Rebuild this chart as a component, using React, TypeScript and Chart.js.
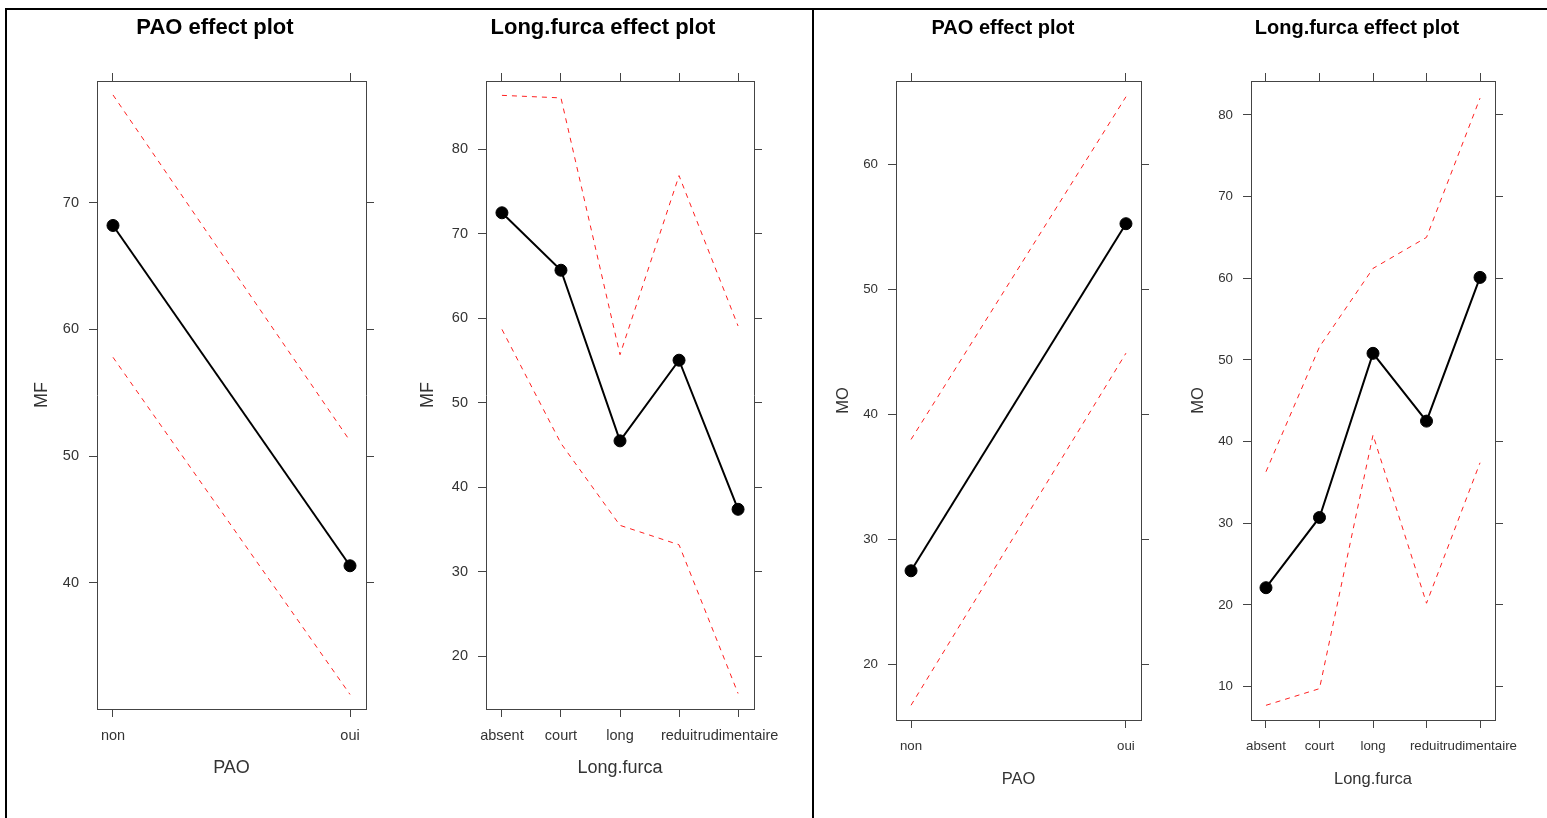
import React, { useEffect, useRef } from 'react';
import Chart from 'chart.js/auto';

// ---------- data ----------
const paoLevels = ['non', 'oui'];
const furcaLevels = ['absent', 'court', 'long', 'reduit', 'rudimentaire'];

const mfPaoFit = [68.2, 41.35];
const mfPaoUpper = [78.5, 51.2];
const mfPaoLower = [57.8, 31.2];

const mfFurcaFit = [72.5, 65.7, 45.5, 55.05, 37.4];
const mfFurcaUpper = [86.4, 86.1, 55.7, 76.9, 59.1];
const mfFurcaLower = [58.7, 45.2, 35.5, 33.2, 15.6];

const moPaoFit = [27.5, 55.25];
const moPaoUpper = [38.0, 65.4];
const moPaoLower = [16.75, 44.9];

const moFurcaFit = [22.1, 30.7, 50.8, 42.5, 60.1];
const moFurcaUpper = [36.3, 51.6, 61.2, 65.0, 82.05];
const moFurcaLower = [7.7, 9.74, 40.8, 20.2, 37.4];

const mfPaoTicks = [40, 50, 60, 70];
const mfFurcaTicks = [20, 30, 40, 50, 60, 70, 80];
const moPaoTicks = [20, 30, 40, 50, 60];
const moFurcaTicks = [10, 20, 30, 40, 50, 60, 70, 80];

// ---------- styling ----------
const FONT = '"Liberation Sans", Arial, Helvetica, sans-serif';
const AXIS_COLOR = '#444';
const TEXT_COLOR = '#333';

type PanelSpec = {
  title: string;
  xTitle: string;
  yTitle: string;
  levels: string[];
  fit: number[];
  upper: number[];
  lower: number[];
  yTicks: number[];
  xMin: number;
  xMax: number;
  yMin: number;
  yMax: number;
  left: number;
  top: number;
  w: number;
  h: number;
  leftW: number;
  rightW: number;
  topH: number;
  bottomH: number;
  yTitlePad: number;
  xTitlePad: number;
  titleSize: number;
  tickSize: number;
  axisTitleSize: number;
};

const panels: PanelSpec[] = [
  {
    title: 'PAO effect plot', xTitle: 'PAO', yTitle: 'MF', levels: paoLevels,
    fit: mfPaoFit, upper: mfPaoUpper, lower: mfPaoLower, yTicks: mfPaoTicks,
    xMin: 0.9325, xMax: 2.0675, yMin: 30.05, yMax: 79.6,
    left: 10, top: 10, w: 410, h: 808, leftW: 87, rightW: 54, topH: 40, bottomH: 109,
    yTitlePad: 21, xTitlePad: 39, titleSize: 22, tickSize: 14.5, axisTitleSize: 18,
  },
  {
    title: 'Long.furca effect plot', xTitle: 'Long.furca', yTitle: 'MF', levels: furcaLevels,
    fit: mfFurcaFit, upper: mfFurcaUpper, lower: mfFurcaLower, yTicks: mfFurcaTicks,
    xMin: 0.73, xMax: 5.27, yMin: 13.76, yMax: 88.1,
    left: 412, top: 10, w: 382, h: 808, leftW: 74, rightW: 40, topH: 40, bottomH: 109,
    yTitlePad: 5, xTitlePad: 39, titleSize: 22, tickSize: 14.5, axisTitleSize: 18,
  },
  {
    title: 'PAO effect plot', xTitle: 'PAO', yTitle: 'MO', levels: paoLevels,
    fit: moPaoFit, upper: moPaoUpper, lower: moPaoLower, yTicks: moPaoTicks,
    xMin: 0.93, xMax: 2.07, yMin: 15.57, yMax: 66.66,
    left: 820, top: 10, w: 366, h: 808, leftW: 76, rightW: 45, topH: 40, bottomH: 98,
    yTitlePad: 12, xTitlePad: 28, titleSize: 20, tickSize: 13.3, axisTitleSize: 16.5,
  },
  {
    title: 'Long.furca effect plot', xTitle: 'Long.furca', yTitle: 'MO', levels: furcaLevels,
    fit: moFurcaFit, upper: moFurcaUpper, lower: moFurcaLower, yTicks: moFurcaTicks,
    xMin: 0.72, xMax: 5.28, yMin: 5.9, yMax: 84.15,
    left: 1170, top: 10, w: 374, h: 808, leftW: 81, rightW: 49, topH: 40, bottomH: 98,
    yTitlePad: 17, xTitlePad: 28, titleSize: 20, tickSize: 13.3, axisTitleSize: 16.5,
  },
];

function toPoints(vals: number[]) {
  return vals.map((v, i) => ({ x: i + 1, y: v }));
}

function Panel({ spec }: { spec: PanelSpec }) {
  const ref = useRef<HTMLCanvasElement>(null);

  useEffect(() => {
    const canvas = ref.current;
    if (!canvas) return;
    const xTickBuilder = (s: any) => {
      s.ticks = spec.levels.map((_, i) => ({ value: i + 1 }));
    };
    const yTickBuilder = (s: any) => {
      s.ticks = spec.yTicks.map((v) => ({ value: v }));
    };
    const gridBase = {
      drawOnChartArea: false,
      drawTicks: true,
      tickLength: 8,
      color: AXIS_COLOR,
      tickColor: AXIS_COLOR,
      lineWidth: 1,
    };
    const borderBase = { display: true, color: AXIS_COLOR, width: 1 };

    const chart = new Chart(canvas, {
      type: 'line',
      data: {
        datasets: [
          {
            label: 'fit',
            data: toPoints(spec.fit),
            borderColor: '#000',
            backgroundColor: '#000',
            borderWidth: 2,
            pointRadius: 6,
            pointHoverRadius: 6,
            pointBorderWidth: 1,
            pointBackgroundColor: '#000',
            pointBorderColor: '#000',
            tension: 0,
            xAxisID: 'x',
            yAxisID: 'y',
          },
          {
            label: 'upper',
            data: toPoints(spec.upper),
            borderColor: '#ff2020',
            borderWidth: 1,
            borderDash: [5, 5],
            pointRadius: 0,
            tension: 0,
            xAxisID: 'x',
            yAxisID: 'y',
          },
          {
            label: 'lower',
            data: toPoints(spec.lower),
            borderColor: '#ff2020',
            borderWidth: 1,
            borderDash: [5, 5],
            pointRadius: 0,
            tension: 0,
            xAxisID: 'x',
            yAxisID: 'y',
          },
        ],
      },
      options: {
        responsive: false,
        animation: false,
        events: [],
        layout: { padding: 0 },
        plugins: {
          legend: { display: false },
          tooltip: { enabled: false },
          title: {
            display: true,
            text: spec.title,
            color: '#000',
            font: { family: FONT, size: spec.titleSize, weight: 'bold', lineHeight: '26px' },
            padding: { top: 5, bottom: 0 },
          },
        },
        scales: {
          x: {
            type: 'linear',
            position: 'bottom',
            min: spec.xMin,
            max: spec.xMax,
            afterBuildTicks: xTickBuilder,
            afterFit: (s: any) => {
              s.height = spec.bottomH;
              s.paddingLeft = 0;
              s.paddingRight = 0;
            },
            ticks: {
              autoSkip: false,
              maxRotation: 0,
              minRotation: 0,
              padding: 10,
              color: TEXT_COLOR,
              font: { family: FONT, size: spec.tickSize },
              callback: (_v: any, i: number) => spec.levels[i] ?? '',
            },
            grid: gridBase,
            border: borderBase,
            title: {
              display: true,
              text: spec.xTitle,
              color: TEXT_COLOR,
              font: { family: FONT, size: spec.axisTitleSize, lineHeight: '22px' },
              padding: { top: 0, bottom: spec.xTitlePad },
            },
          },
          xTop: {
            type: 'linear',
            position: 'top',
            axis: 'x',
            min: spec.xMin,
            max: spec.xMax,
            afterBuildTicks: xTickBuilder,
            afterFit: (s: any) => {
              s.height = spec.topH;
              s.paddingLeft = 0;
              s.paddingRight = 0;
            },
            ticks: { display: false },
            grid: gridBase,
            border: borderBase,
          },
          y: {
            type: 'linear',
            position: 'left',
            min: spec.yMin,
            max: spec.yMax,
            afterBuildTicks: yTickBuilder,
            afterFit: (s: any) => {
              s.width = spec.leftW;
              s.paddingTop = 0;
              s.paddingBottom = 0;
            },
            ticks: {
              padding: 10,
              color: TEXT_COLOR,
              font: { family: FONT, size: spec.tickSize },
              callback: (v: any) => String(v),
            },
            grid: gridBase,
            border: borderBase,
            title: {
              display: true,
              text: spec.yTitle,
              color: TEXT_COLOR,
              font: { family: FONT, size: spec.axisTitleSize, lineHeight: '22px' },
              padding: { top: spec.yTitlePad, bottom: 0 },
            },
          },
          yRight: {
            type: 'linear',
            position: 'right',
            axis: 'y',
            min: spec.yMin,
            max: spec.yMax,
            afterBuildTicks: yTickBuilder,
            afterFit: (s: any) => {
              s.width = spec.rightW;
              s.paddingTop = 0;
              s.paddingBottom = 0;
            },
            ticks: { display: false },
            grid: gridBase,
            border: borderBase,
          },
        },
      } as any,
    });
    return () => chart.destroy();
  }, [spec]);

  return (
    <canvas
      ref={ref}
      width={spec.w}
      height={spec.h}
      style={{ position: 'absolute', left: spec.left, top: spec.top, width: spec.w, height: spec.h }}
    />
  );
}

export default function App() {
  return (
    <div
      style={{
        position: 'absolute',
        left: 0,
        top: 0,
        width: 1547,
        height: 818,
        background: '#fff',
        overflow: 'hidden',
      }}
    >
      {/* outer frame */}
      <div style={{ position: 'absolute', left: 5, top: 8, width: 1542, height: 2, background: '#000' }} />
      <div style={{ position: 'absolute', left: 5, top: 8, width: 2, height: 810, background: '#000' }} />
      <div style={{ position: 'absolute', left: 812, top: 8, width: 2, height: 810, background: '#000' }} />
      {panels.map((p, i) => (
        <Panel key={i} spec={p} />
      ))}
    </div>
  );
}
